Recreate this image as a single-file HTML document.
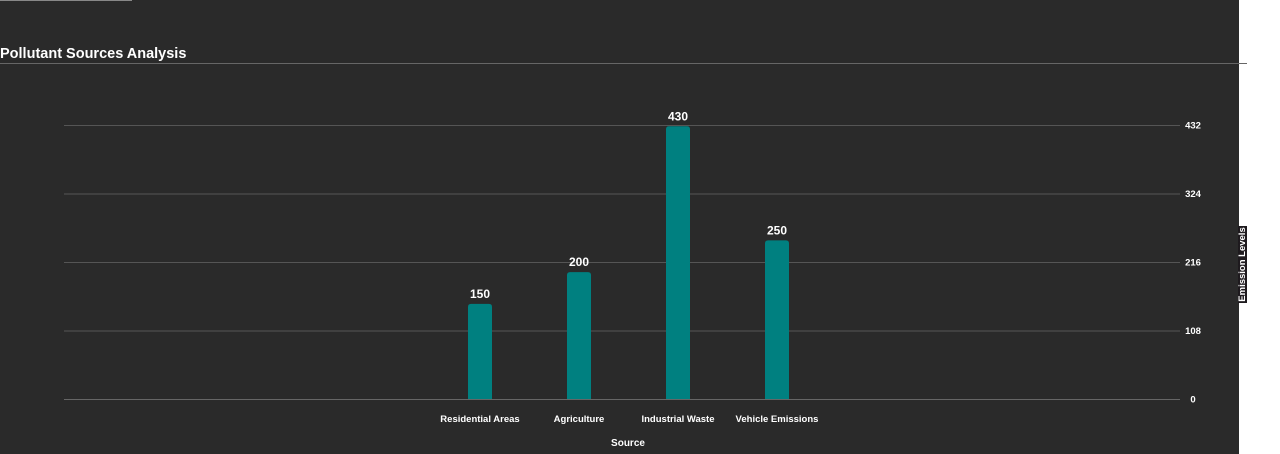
<!DOCTYPE html>
<html><head><meta charset="utf-8"><style>
html,body{margin:0;padding:0;width:1280px;height:454px;overflow:hidden;background:#fff;font-family:"Liberation Sans",sans-serif;}
#panel{position:absolute;left:0;top:0;width:1239px;height:454px;background:#2a2a2a;}
</style></head><body>
<div id="panel"></div>
<svg width="1280" height="454" style="position:absolute;left:0;top:0">
<line x1="0" y1="0.5" x2="132" y2="0.5" stroke="#888"/>
<text x="0" y="58" fill="#fff" font-size="14.5" font-weight="bold">Pollutant Sources Analysis</text>
<line x1="0" y1="63.5" x2="1247" y2="63.5" stroke="#666"/>
<g id="grid"></g><g id="bars"></g>
<text x="628" y="446" fill="#fff" font-size="10" font-weight="bold" text-anchor="middle">Source</text>
<rect x="1238" y="226" width="9" height="77" fill="#1e1a1e"/>
<text transform="translate(1245,264.5) rotate(-90)" fill="#fff" font-size="9.5" font-weight="bold" text-anchor="middle">Emission Levels</text>
</svg>
<script>
const categories=["Residential Areas","Agriculture","Industrial Waste","Vehicle Emissions"];
const values=[150,200,430,250];
const ticks=[0,108,216,324,432];
const NS="http://www.w3.org/2000/svg";
const y0=399,yTop=125,maxV=432;
function y(v){return y0-(v/maxV)*(y0-yTop);}
function x(i){return 480+i*99;}
function mk(t,a,p){const e=document.createElementNS(NS,t);for(const k in a)e.setAttribute(k,a[k]);p.appendChild(e);return e;}
const g=document.getElementById('grid'),b=document.getElementById('bars');
ticks.forEach(t=>{
 const l=mk('line',{x1:64,x2:1180,y1:y(t)+0.5,y2:y(t)+0.5,stroke:t===0?'#666':'#555'},g);
 
 
 const tx=mk('text',{x:1193,y:y(t)+3.5,fill:'#fff','font-size':9.5,'font-weight':'bold','text-anchor':'middle'},g);
 tx.textContent=t;
 
 
});
values.forEach((v,i)=>{
 const top=y(v),h=y0-top,w=24,xl=x(i)-w/2,r=3;
 const p=mk('path',{d:`M${xl},${y0}V${top+r}Q${xl},${top} ${xl+r},${top}H${xl+w-r}Q${xl+w},${top} ${xl+w},${top+r}V${y0}Z`,fill:'#008080'},b);
 
 
 const vl=mk('text',{x:x(i),y:top-6,fill:'#fff','font-size':12,'font-weight':'bold','text-anchor':'middle'},b);
 vl.textContent=v;
 
 
 const cl=mk('text',{x:x(i),y:422,fill:'#fff','font-size':9.5,'font-weight':'bold','text-anchor':'middle'},b);
 cl.textContent=categories[i];
 
 
});
</script>
</body></html>
